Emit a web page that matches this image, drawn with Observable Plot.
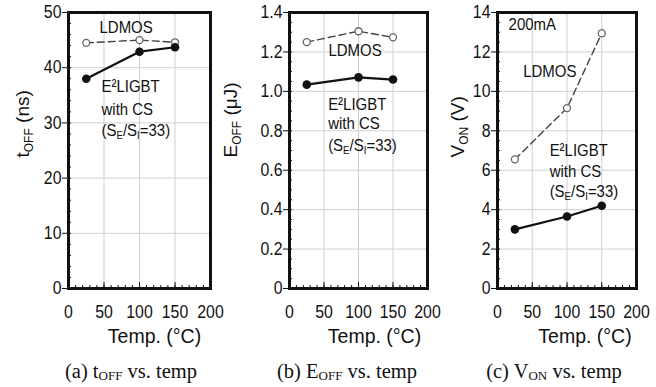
<!DOCTYPE html>
<html><head><meta charset="utf-8">
<script src="https://cdn.jsdelivr.net/npm/d3@7"></script>
<script src="https://cdn.jsdelivr.net/npm/@observablehq/plot@0.6"></script>
<style>
html,body{margin:0;padding:0;background:#fff;}
#root{position:relative;width:656px;height:387px;overflow:hidden;background:#fff;}
.panel{position:absolute;top:0;}
.panel svg{overflow:visible !important;background:transparent !important;max-width:none !important;}
.cap{position:absolute;font-family:"Liberation Serif",serif;font-size:20.5px;color:#111;white-space:nowrap;transform:translateX(-50%);line-height:1;}
.cap sub{font-size:13px;vertical-align:baseline;position:relative;top:2px;}
</style></head><body><div id="root"></div>
<script>
// ---- data ----
const temps = [25, 100, 150];
const toffLDMOS = [44.5, 45.0, 44.6];
const toffE2 = [38.0, 42.9, 43.7];
const eoffLDMOS = [1.25, 1.305, 1.274];
const eoffE2 = [1.034, 1.071, 1.06];
const vonLDMOS = [6.55, 9.15, 12.95];
const vonE2 = [3.0, 3.65, 4.2];
const xTicks = [0, 50, 100, 150, 200];
const toffTicks = [0, 10, 20, 30, 40, 50];
const eoffTicks = [0, 0.2, 0.4, 0.6, 0.8, 1.0, 1.2, 1.4];
const vonTicks = [0, 2, 4, 6, 8, 10, 12, 14];
const xLabel = "Temp. (°C)";
const yLabels = ["tOFF (ns)", "EOFF (μJ)", "VON (V)"];
const captions = ["(a) t<sub>OFF</sub> vs. temp", "(b) E<sub>OFF</sub> vs. temp", "(c) V<sub>ON</sub> vs. temp"];
// annotation anchors in data units [temp, value, text]
const notesA = [[43.7, 47.3, "LDMOS"], [46.5, 36.5, "E²LIGBT"], [46.5, 32.4, "with CS"], [46.5, 28.6, "(SE/SI=33)"]];
const notesB = [[56.5, 1.209, "LDMOS"], [56, 0.935, "E²LIGBT"], [56, 0.838, "with CS"], [56, 0.726, "(SE/SI=33)"]];
const notesC = [[16, 13.37, "200mA"], [37, 11.0, "LDMOS"], [75, 7.0, "E²LIGBT"], [75, 5.92, "with CS"], [75, 4.93, "(SE/SI=33)"]];

const rows = arr => temps.map((t, i) => ({temp: t, v: arr[i]}));
const FONT = "'Liberation Sans', Arial, sans-serif";

const panels = [
  {left: 0, width: 218, ml: 68, mr: 8, yMax: 50, ticks: toffTicks, minor: d3.range(0, 50.001, 2), fmt: d => String(d),
   ld: toffLDMOS, e2: toffE2, ylabel: yLabels[0], ylParts: [["t"], ["OFF", 1], [" (ns)"]], ylDx: -46, xlDx: 15, notes: notesA, cap: captions[0], capX: 131},
  {left: 218, width: 218, ml: 71, mr: 9, yMax: 1.4, ticks: eoffTicks, minor: d3.range(0, 1.4001, 0.05), fmt: d => d === 0 ? "0" : d.toFixed(1),
   ld: eoffLDMOS, e2: eoffE2, ylabel: yLabels[1], ylParts: [["E"], ["OFF", 1], [" (μJ)"]], ylDx: -59, xlDx: 16, notes: notesB, cap: captions[1], capX: 347},
  {left: 436, width: 220, ml: 61, mr: 20, yMax: 14, ticks: vonTicks, minor: d3.range(0, 14.001, 0.5), fmt: d => String(d),
   ld: vonLDMOS, e2: vonE2, ylabel: yLabels[2], ylParts: [["V"], ["ON", 1], [" (V)"]], ylDx: -40, xlDx: 18, notes: notesC, cap: captions[2], capX: 554}
];

function enrich(svg, plain, parts, subSize, shift) {
  d3.select(svg).selectAll("text").filter(function(){ return this.textContent === plain; }).each(function(){
    const t = d3.select(this);
    t.selectAll("*").remove(); t.text(null);
    let cur = 0;
    parts.forEach(([s, sub]) => {
      const ts = t.append("tspan").text(s);
      if (sub) { ts.attr("font-size", subSize).attr("dy", shift - cur); cur = shift; }
      else { if (cur) ts.attr("dy", -cur); cur = 0; }
    });
  });
}

// narrow the glyphs of ticks and notes (the reference face is condensed)
function condense(svg, skip, factor) {
  d3.select(svg).selectAll("text").each(function(){
    const s = this.textContent;
    if (!s || skip.includes(s)) return;
    const len = this.getComputedTextLength();
    if (len > 0) {
      this.setAttribute("textLength", (len * factor).toFixed(2));
      this.setAttribute("lengthAdjust", "spacingAndGlyphs");
    }
  });
}

const root = document.getElementById("root");
const xMinor = d3.range(0, 200.001, 10);

panels.forEach(p => {
  const svg = Plot.plot({
    width: p.width, height: 345,
    marginLeft: p.ml, marginRight: p.mr, marginTop: 12, marginBottom: 57,
    style: {fontFamily: FONT, fontSize: "18px", color: "#111", background: "transparent", overflow: "visible"},
    x: {domain: [0, 200]},
    y: {domain: [0, p.yMax]},
    marks: [
      Plot.gridX(xTicks.slice(1, -1), {stroke: "#cfcfcf", strokeOpacity: 1}),
      Plot.gridY(p.ticks.slice(1, -1), {stroke: "#cfcfcf", strokeOpacity: 1}),
      Plot.axisX(xMinor, {tickSize: -3, tickFormat: () => "", label: null}),
      Plot.axisX(xTicks, {tickSize: -6, tickFormat: () => "", label: null}),
      Plot.axisX(xTicks, {tickSize: 0, tickPadding: 17, label: null, fontSize: 18}),
      Plot.axisY(p.minor, {tickSize: -3, tickFormat: () => "", label: null}),
      Plot.axisY(p.ticks, {tickSize: 6, tickPadding: 1, tickFormat: p.fmt, label: null, fontSize: 18}),
      Plot.frame({stroke: "#111", strokeWidth: 3}),
      Plot.line(rows(p.ld), {x: "temp", y: "v", stroke: "#444", strokeWidth: 1.4, strokeDasharray: "7,4"}),
      Plot.dot(rows(p.ld), {x: "temp", y: "v", r: 3.5, fill: "white", stroke: "#666", strokeWidth: 1.3}),
      Plot.line(rows(p.e2), {x: "temp", y: "v", stroke: "#111", strokeWidth: 2.2}),
      Plot.dot(rows(p.e2), {x: "temp", y: "v", r: 4.3, fill: "#111"}),
      Plot.text(p.notes, {x: d => d[0], y: d => d[1], text: d => d[2], textAnchor: "start", fontSize: 17, fill: "#111"}),
      Plot.text([p.ylabel], {frameAnchor: "left", rotate: -90, dx: p.ylDx, dy: 7, fontSize: 19, fill: "#111"}),
      Plot.text([xLabel], {frameAnchor: "bottom", dx: p.xlDx, dy: 54, fontSize: 19.5, fill: "#111"})
    ]
  });
  enrich(svg, p.ylabel, p.ylParts, 12, 4);
  enrich(svg, "(SE/SI=33)", [["(S"], ["E", 1], ["/S"], ["I", 1], ["=33)"]], 11, 3);
  const div = document.createElement("div");
  div.className = "panel";
  div.style.left = p.left + "px";
  div.appendChild(svg);
  root.appendChild(div);
  condense(svg, [xLabel, p.ylabel], 0.88);
  const cap = document.createElement("div");
  cap.className = "cap";
  cap.style.left = p.capX + "px";
  cap.style.top = "361px";
  cap.innerHTML = p.cap;
  root.appendChild(cap);
});
</script></body></html>
